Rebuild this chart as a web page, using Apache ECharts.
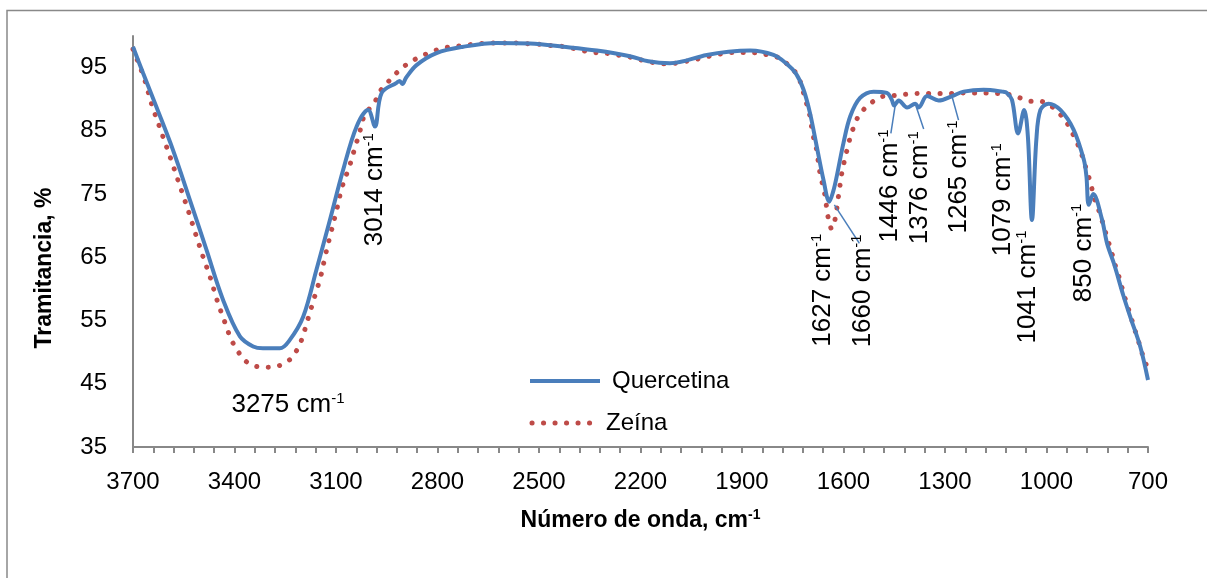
<!DOCTYPE html>
<html>
<head>
<meta charset="utf-8">
<script src="https://cdn.jsdelivr.net/npm/echarts@6/dist/echarts.min.js"></script>
<style>
  html, body { margin: 0; padding: 0; background: #fff; }
  #main { width: 1207px; height: 578px; }
</style>
</head>
<body>
<div id="main"></div>
<script>
// Quercetina (linea continua azul)
var qWave = [3700, 3670, 3631, 3582, 3532, 3483, 3434, 3384, 3345, 3316, 3266, 3237, 3197, 3158, 3118, 3079,
    3039, 3005, 2985, 2965, 2921, 2912, 2904, 2893, 2862, 2803, 2724, 2625, 2527, 2428, 2329, 2231,
    2177, 2113, 2004, 1940, 1876, 1807, 1768, 1740, 1718, 1699, 1679, 1659, 1642, 1630, 1620, 1600,
    1580, 1551, 1511, 1472, 1458, 1450, 1437, 1412, 1388, 1378, 1353, 1319, 1279, 1245, 1186, 1130,
    1117, 1102, 1084, 1066, 1055, 1043, 1030, 1018, 994, 959, 920, 890, 882, 875, 862, 836,
    821, 800, 772, 750, 723, 700];
var qTrans = [98.3, 94.1, 88.8, 82.0, 74.1, 66.2, 58.3, 52.5, 50.9, 50.6, 50.6, 51.9, 55.6, 63.0, 70.9, 78.8,
    85.7, 88.3, 85.7, 91.0, 92.6, 92.9, 92.4, 93.4, 95.4, 97.3, 98.3, 98.9, 98.8, 98.3, 97.7, 96.8,
    96.0, 95.7, 97.0, 97.5, 97.7, 97.0, 95.6, 94.0, 91.5, 87.8, 82.5, 77.2, 73.8, 75.5, 77.8, 83.1,
    87.3, 90.2, 91.2, 91.0, 90.0, 89.0, 89.8, 88.7, 89.3, 88.7, 90.5, 89.8, 90.5, 91.2, 91.5, 91.2,
    91.0, 89.9, 84.6, 88.3, 84.1, 70.9, 83.6, 88.3, 89.3, 88.3, 85.2, 80.5, 77.8, 73.3, 75.0, 71.0,
    67.2, 63.9, 58.8, 55.2, 50.9, 45.6];

// Zeína (linea punteada roja)
var zWave = [3700, 3688, 3665, 3646, 3624, 3601, 3579, 3557, 3535, 3515, 3493, 3471, 3452, 3429, 3404, 3365,
    3332, 3301, 3266, 3237, 3217, 3202, 3182, 3163, 3146, 3131, 3115, 3098, 3082, 3059, 3041, 3030,
    3023, 3007, 2985, 2972, 2948, 2924, 2899, 2870, 2840, 2808, 2773, 2742, 2709, 2675, 2640, 2606,
    2571, 2537, 2502, 2470, 2438, 2404, 2371, 2340, 2305, 2272, 2241, 2206, 2177, 2142, 2111, 2078,
    2044, 2012, 1980, 1947, 1914, 1881, 1854, 1822, 1789, 1763, 1740, 1728, 1718, 1708, 1699, 1694,
    1687, 1679, 1674, 1669, 1661, 1654, 1649, 1644, 1635, 1625, 1615, 1610, 1605, 1598, 1590, 1582,
    1572, 1559, 1538, 1511, 1480, 1447, 1413, 1378, 1347, 1312, 1278, 1243, 1211, 1176, 1142, 1107,
    1078, 1049, 1023, 994, 967, 944, 927, 912, 898, 888, 878, 868, 861, 849, 838, 828,
    818, 808, 799, 788, 779, 770, 760, 750, 740, 729, 720, 708, 700];
var zTrans = [97.9, 96.3, 93.0, 89.4, 86.0, 82.5, 79.1, 75.6, 72.1, 68.7, 65.1, 61.7, 58.3, 54.8, 51.4, 48.5,
    47.7, 47.6, 47.9, 48.8, 50.2, 51.9, 55.4, 58.8, 61.8, 65.4, 68.9, 72.5, 76.1, 79.6, 82.9, 84.7,
    86.5, 88.1, 89.6, 91.1, 92.6, 94.0, 95.2, 96.2, 97.0, 97.7, 98.2, 98.4, 98.6, 98.8, 98.9, 98.9,
    98.9, 98.8, 98.7, 98.5, 98.4, 98.1, 97.7, 97.4, 97.3, 97.0, 96.8, 96.3, 96.0, 95.6, 95.6, 95.9,
    96.2, 96.6, 97.0, 97.3, 97.4, 97.4, 97.3, 97.0, 96.5, 95.4, 94.1, 92.8, 91.0, 89.1, 87.3, 85.5,
    83.6, 81.9, 79.9, 78.2, 76.3, 74.6, 72.5, 71.0, 69.5, 71.0, 74.6, 76.5, 78.3, 80.1, 81.9, 83.6,
    85.3, 87.0, 88.5, 89.7, 90.5, 90.6, 90.8, 90.9, 90.9, 90.9, 90.9, 91.0, 91.0, 91.0, 90.9, 90.7,
    90.2, 89.7, 89.7, 89.2, 88.0, 86.6, 85.0, 83.4, 81.6, 79.9, 78.2, 76.4, 74.7, 73.0, 71.2, 69.4,
    67.6, 65.9, 64.1, 62.3, 60.6, 58.9, 57.2, 55.5, 53.7, 51.9, 50.2, 48.5, 46.9];

// etiquetas de bandas (posicion en coordenadas de datos)
var annoText = ['3275', '3014', '1627', '1660', '1446', '1376', '1265', '1079', '1041', '850'];
var annoWave = [3242, 2985, 1661, 1542, 1462, 1373, 1258, 1128, 1054, 891];
var annoTrans = [41.6, 75.7, 59.8, 59.7, 76.3, 76.0, 77.7, 74.1, 60.3, 65.7];
var annoVertical = [false, true, true, true, true, true, true, true, true, true];

// lineas guia [wn1, T1, wn2, T2]
var leaders = [
    [1627, 73.3, 1553, 67.2],
    [1447, 89.1, 1460, 84.6],
    [1385, 88.8, 1363, 85.3],
    [1279, 90.4, 1260, 86.7]
];

var xLabelStep = 300;
var FONT = '"Liberation Sans", Arial, sans-serif';
var BLUE = '#4A7EBB';
var RED = '#BE4B48';
var DOTS = [0.1, 11.4];

function pairs(xs, ys) {
    var out = [];
    for (var i = 0; i < xs.length; i++) out.push([xs[i], ys[i]]);
    return out;
}

var myChart = echarts.init(document.getElementById('main'));
var option = {
    animation: false,
    backgroundColor: '#ffffff',
    grid: { left: 133, right: 59, top: 36, bottom: 131 },
    xAxis: {
        type: 'value',
        inverse: true,
        min: 700,
        max: 3700,
        interval: 60,
        name: '{b|Número de onda, cm}{s|-1}',
        nameLocation: 'middle',
        nameGap: 61,
        nameMoveOverlap: false,
        nameTextStyle: {
            verticalAlign: 'top',
            rich: {
                b: { fontSize: 23, fontWeight: 'bold', fontFamily: FONT, color: '#000', lineHeight: 26 },
                s: { fontSize: 14, fontWeight: 'bold', fontFamily: FONT, color: '#000', verticalAlign: 'top', lineHeight: 26 }
            }
        },
        splitLine: { show: false },
        axisLine: { lineStyle: { color: '#888888', width: 2 } },
        axisTick: { inside: false, length: 6, lineStyle: { color: '#888888', width: 2 } },
        axisLabel: {
            margin: 23,
            fontSize: 24,
            fontFamily: FONT,
            color: '#000',
            formatter: function (v) {
                return ((v - 700) % xLabelStep === 0) ? String(v) : '';
            }
        }
    },
    yAxis: {
        type: 'value',
        min: 35,
        max: 100,
        interval: 10,
        splitLine: { show: false },
        axisLine: { show: true, lineStyle: { color: '#888888', width: 2 } },
        axisTick: { show: false },
        axisLabel: {
            margin: 26,
            fontSize: 24,
            fontFamily: FONT,
            color: '#000',
            showMaxLabel: false
        }
    },
    series: [{
        name: 'Quercetina',
        type: 'line',
        symbol: 'none',
        showSymbol: false,
        smooth: 0.35,
        lineStyle: { color: BLUE, width: 4 },
        itemStyle: { color: BLUE },
        data: pairs(qWave, qTrans),
        markLine: {
            silent: true,
            symbol: ['none', 'none'],
            label: { show: false },
            lineStyle: { color: BLUE, width: 1.5, type: 'solid' },
            data: leaders.map(function (l) {
                return [{ coord: [l[0], l[1]] }, { coord: [l[2], l[3]] }];
            })
        },
        z: 3
    }, {
        name: 'Zeína',
        type: 'line',
        symbol: 'none',
        showSymbol: false,
        smooth: 0.35,
        lineStyle: { color: RED, width: 5, type: DOTS, cap: 'round' },
        itemStyle: { color: RED },
        data: pairs(zWave, zTrans),
        z: 2
    }]
};
myChart.setOption(option);

// marco, leyenda, titulo del eje y y etiquetas
var graphics = [{
    type: 'rect',
    silent: true,
    shape: { x: 7, y: 10.5, width: 1400, height: 800 },
    style: { fill: null, stroke: '#898989', lineWidth: 1.5 },
    z: -10
}, {
    type: 'text',
    silent: true,
    x: 45, y: 268,
    rotation: Math.PI / 2,
    style: { text: 'Tramitancia, %', align: 'center', verticalAlign: 'middle',
        fontSize: 23, fontWeight: 'bold', fontFamily: FONT, fill: '#000' }
}, {
    type: 'line',
    silent: true,
    shape: { x1: 530, y1: 381, x2: 600, y2: 381 },
    style: { stroke: BLUE, lineWidth: 4 }
}, {
    type: 'text',
    silent: true,
    x: 612, y: 381,
    style: { text: 'Quercetina', verticalAlign: 'middle', fontSize: 24, fontFamily: FONT, fill: '#000' }
}, {
    type: 'line',
    silent: true,
    shape: { x1: 532, y1: 423, x2: 592, y2: 423 },
    style: { stroke: RED, lineWidth: 5, lineDash: DOTS, lineCap: 'round' }
}, {
    type: 'text',
    silent: true,
    x: 606, y: 423,
    style: { text: 'Zeína', verticalAlign: 'middle', fontSize: 24, fontFamily: FONT, fill: '#000' }
}];
for (var i = 0; i < annoText.length; i++) {
    var p = myChart.convertToPixel({ gridIndex: 0 }, [annoWave[i], annoTrans[i]]);
    graphics.push({
        type: 'text',
        silent: true,
        x: p[0],
        y: p[1],
        rotation: annoVertical[i] ? Math.PI / 2 : 0,
        style: {
            text: '{n|' + annoText[i] + ' cm}{s|-1}',
            align: 'center',
            verticalAlign: 'middle',
            rich: {
                n: { fontSize: 26, fontFamily: FONT, fill: '#000', lineHeight: 28 },
                s: { fontSize: 15, fontFamily: FONT, fill: '#000', verticalAlign: 'top', lineHeight: 28 }
            }
        },
        z: 10
    });
}
myChart.setOption({ graphic: graphics });
</script>
</body>
</html>
